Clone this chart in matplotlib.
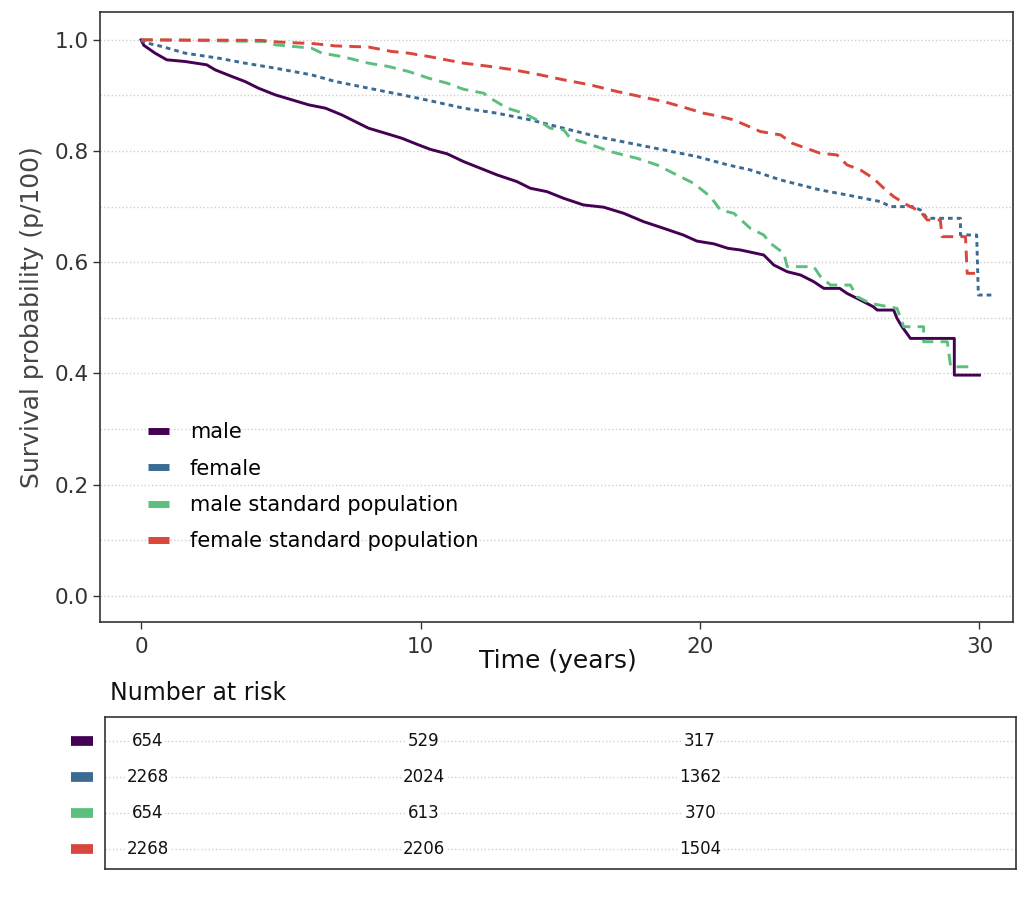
import matplotlib
matplotlib.use("Agg")
import matplotlib.pyplot as plt
import matplotlib.transforms as mtransforms
from matplotlib.lines import Line2D

# survival curves; repeated times mark the big vertical drops
male_t = [0, 0.1, 0.5, 0.92, 1.57, 2.35, 2.65, 3.25, 3.72, 4.2, 4.8, 5.4, 6.0, 6.6, 7.18, 7.66,
          8.14, 8.74, 9.33, 9.93, 10.35, 10.95, 11.54, 12.14, 12.74, 13.45, 13.93, 14.52, 15.12,
          15.83, 16.55, 17.27, 17.98, 18.7, 19.4, 19.89, 20.5, 21.0, 21.45, 22.28, 22.64, 23.12,
          23.6, 24.07, 24.43, 25.0, 25.26, 25.74, 26.2, 26.34, 26.93, 27.05, 27.23, 27.53, 29.1,
          29.1, 30.0]
male_s = [1.0, 0.99, 0.976, 0.964, 0.961, 0.955, 0.946, 0.934, 0.925, 0.913, 0.901, 0.892, 0.883,
          0.877, 0.865, 0.853, 0.841, 0.832, 0.823, 0.811, 0.803, 0.795, 0.781, 0.769, 0.757,
          0.745, 0.733, 0.727, 0.715, 0.703, 0.699, 0.688, 0.673, 0.661, 0.649, 0.638, 0.633,
          0.625, 0.622, 0.613, 0.595, 0.583, 0.577, 0.565, 0.553, 0.553, 0.544, 0.532, 0.52,
          0.514, 0.514, 0.499, 0.484, 0.463, 0.463, 0.397, 0.397]

female_t = [0, 0.14, 0.74, 1.57, 2.77, 3.72, 4.8, 6.1, 6.95, 8.14, 9.33, 10.29, 11.54, 12.74,
            13.93, 15.12, 16.31, 17.5, 18.7, 19.89, 21.0, 21.8, 22.88, 24.3, 25.26, 26.46, 26.82,
            27.6, 27.89, 28.13, 29.32, 29.32, 29.9, 29.96, 30.52]
female_s = [1.0, 0.995, 0.988, 0.976, 0.967, 0.958, 0.949, 0.937, 0.925, 0.913, 0.901, 0.891,
            0.877, 0.868, 0.856, 0.841, 0.826, 0.814, 0.802, 0.79, 0.775, 0.766, 0.748, 0.73,
            0.721, 0.709, 0.70, 0.70, 0.694, 0.679, 0.679, 0.649, 0.649, 0.541, 0.541]

male_std_t = [0, 4.44, 4.8, 6.1, 6.47, 7.18, 8.14, 8.85, 9.57, 10.29, 10.95, 11.54, 12.26, 12.5,
              13.1, 13.69, 14.28, 14.64, 15.12, 15.36, 15.95, 16.79, 17.74, 18.46, 19.17, 19.77,
              20.37, 20.73, 21.21, 21.8, 22.28, 22.52, 23.0, 23.12, 24.07, 24.3, 24.67, 25.38,
              25.62, 26.1, 27.05, 27.29, 28.0, 28.0, 28.85, 28.97, 29.86]
male_std_s = [1.0, 0.997, 0.991, 0.985, 0.976, 0.97, 0.958, 0.952, 0.943, 0.931, 0.922, 0.911,
              0.904, 0.895, 0.877, 0.868, 0.853, 0.841, 0.838, 0.823, 0.814, 0.799, 0.787, 0.775,
              0.757, 0.742, 0.718, 0.694, 0.688, 0.661, 0.649, 0.634, 0.616, 0.592, 0.592, 0.575,
              0.559, 0.559, 0.538, 0.526, 0.517, 0.484, 0.484, 0.457, 0.457, 0.412, 0.412]

female_std_t = [0, 4.3, 4.9, 6.2, 6.95, 8.14, 8.97, 9.57, 10.29, 10.6, 11.54, 12.5, 13.33,
                14.28, 15.12, 16.07, 17.03, 17.86, 18.7, 19.53, 20.13, 20.73, 21.21, 22.16,
                22.88, 23.3, 24.3, 24.9, 25.26, 25.74, 26.2, 26.58, 26.93, 27.41, 27.89, 28.13,
                28.6, 28.66, 29.5, 29.56, 30.0]
female_std_s = [1.0, 0.999, 0.996, 0.993, 0.989, 0.987, 0.979, 0.976, 0.97, 0.967, 0.958, 0.952,
                0.946, 0.937, 0.928, 0.919, 0.907, 0.898, 0.889, 0.877, 0.868, 0.862, 0.856,
                0.835, 0.829, 0.814, 0.796, 0.793, 0.775, 0.766, 0.751, 0.733, 0.718, 0.703,
                0.691, 0.676, 0.676, 0.646, 0.646, 0.58, 0.58]

labels = ["male", "female", "male standard population", "female standard population"]
colors = ["#440154", "#3b6a93", "#5cbf7e", "#d8463c"]

risk_times = [0, 10, 20]
risk_male = [654, 529, 317]
risk_female = [2268, 2024, 1362]
risk_male_std = [654, 613, 370]
risk_female_std = [2268, 2206, 1504]

curves = [(male_t, male_s, "-"), (female_t, female_s, (0, (1.6, 1.4))),
          (male_std_t, male_std_s, (0, (4, 2.5))), (female_std_t, female_std_s, (0, (4, 2.5)))]
risk = [risk_male, risk_female, risk_male_std, risk_female_std]

plt.rcParams['font.family'] = ['DejaVu Sans']
fig = plt.figure(figsize=(10.24, 8.98), dpi=100)

# main survival plot
ax = fig.add_axes([100 / 1024, 1 - 622 / 898, 913 / 1024, 610 / 898])
for y in [i / 10 for i in range(11)]:
    ax.axhline(y, color="#cfcfcf", lw=1, ls=":", zorder=0)
for (t, s, ls), c in zip(curves, colors):
    ax.plot(t, s, color=c, lw=2.1, ls=ls)
ax.set_xlim(-1.47, 31.2)
ax.set_ylim(-0.047, 1.05)
ax.set_xticks([0, 10, 20, 30])
ax.set_yticks([0, 0.2, 0.4, 0.6, 0.8, 1.0])
ax.set_yticklabels(["0.0", "0.2", "0.4", "0.6", "0.8", "1.0"])
ax.tick_params(labelsize=15.5, colors="#333333", length=5, width=1, pad=3)
ax.tick_params(axis="x", pad=6)
for sp in ax.spines.values():
    sp.set_color("#333333")
    sp.set_linewidth(1.2)
ax.set_ylabel("Survival probability (p/100)", fontsize=18, color="#444444", labelpad=8)
fig.text(558 / 1024, 1 - 661 / 898, "Time (years)", fontsize=18, ha="center", va="center",
         color="#111111")

handles = [Line2D([0], [0], color=c, lw=5, solid_capstyle="butt") for c in colors]
ax.legend(handles, labels, frameon=False, fontsize=15, handlelength=1.0, handletextpad=1.0,
          labelspacing=0.78, loc="upper left", bbox_to_anchor=(0.032, 0.358))

# number at risk table
fig.text(110 / 1024, 1 - 693 / 898, "Number at risk", fontsize=17, ha="left", va="center",
         color="#111111")
tab = fig.add_axes([105 / 1024, 1 - 869 / 898, 911 / 1024, 152 / 898])
tab.set_xlim(-1.56, 31.45)
tab.set_ylim(3.56, -0.67)
blend = mtransforms.blended_transform_factory(tab.transAxes, tab.transData)
for i, (row, c) in enumerate(zip(risk, colors)):
    tab.axhline(i, color="#cfcfcf", lw=1, ls=":", zorder=0)
    for t, n in zip(risk_times, row):
        tab.text(t, i, str(n), ha="center", va="center", fontsize=12, color="#111111",
                 bbox=dict(facecolor="white", edgecolor="none", pad=1))
    tab.plot([-0.037, -0.013], [i, i], color=c, lw=7, solid_capstyle="butt",
             transform=blend, clip_on=False)
tab.set_xticks([])
tab.set_yticks([])
for sp in tab.spines.values():
    sp.set_color("#333333")
    sp.set_linewidth(1.2)

fig.savefig("out.png", dpi=100, facecolor="white")
